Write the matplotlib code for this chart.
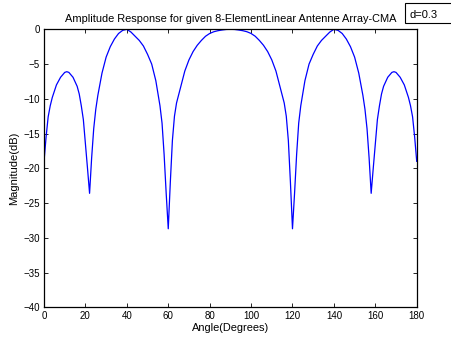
import matplotlib

matplotlib.use("Agg")

import matplotlib.pyplot as plt
from matplotlib.patches import Rectangle

# angle (deg) and magnitude (dB)
angles = [0, 1, 2, 3, 4, 6, 8, 10, 11, 12, 14, 16, 17, 18, 19, 20, 21, 22, 23, 24,
          25, 26, 28, 30, 32, 34, 36, 38, 40, 42, 44, 46, 48, 50, 52, 54, 56, 57,
          58, 59, 60, 61, 62, 63, 64, 66, 68, 70, 72, 74, 76, 78, 80, 82, 84, 86,
          88, 90, 92, 94, 96, 98, 100, 102, 104, 106, 108, 110, 112, 114, 116,
          117, 118, 119, 120, 121, 122, 123, 124, 126, 128, 130, 132, 134, 136,
          138, 140, 142, 144, 146, 148, 150, 152, 154, 155, 156, 157, 158, 159,
          160, 161, 162, 163, 164, 166, 168, 169, 170, 172, 174, 176, 177, 178,
          179, 180]
magnitude = [-19.0, -15.5, -12.6, -11.0, -9.8, -8.0, -6.9, -6.2, -6.1, -6.2, -6.9,
             -8.2, -9.3, -11.0, -13.0, -16.5, -20.0, -23.6, -18.5, -14.3, -11.5,
             -9.5, -6.3, -4.0, -2.5, -1.4, -0.6, -0.15, 0.0, -0.4, -1.0, -1.6,
             -2.4, -3.6, -5.0, -7.4, -11.0, -13.5, -18.0, -23.6, -28.7, -22.0,
             -16.0, -12.5, -10.6, -8.3, -6.0, -4.4, -3.2, -2.3, -1.6, -1.0, -0.6,
             -0.35, -0.2, -0.1, -0.02, 0.0, -0.02, -0.1, -0.2, -0.35, -0.6, -1.0,
             -1.6, -2.3, -3.2, -4.4, -6.0, -8.3, -10.6, -12.5, -16.0, -22.0, -28.7,
             -23.6, -18.0, -13.5, -11.0, -7.4, -5.0, -3.6, -2.4, -1.6, -1.0, -0.4,
             0.0, -0.15, -0.6, -1.4, -2.5, -4.0, -6.3, -9.5, -11.5, -14.3, -18.5,
             -23.6, -20.0, -16.5, -13.0, -11.0, -9.3, -8.2, -6.9, -6.2, -6.1, -6.2,
             -6.9, -8.0, -9.8, -11.0, -12.6, -15.5, -19.0]

x_ticks = list(range(0, 181, 20))
y_ticks = list(range(-40, 1, 5))

plt.rcParams["font.family"] = ["Liberation Sans", "DejaVu Sans"]

fig = plt.figure(figsize=(4.51, 3.38), dpi=100, facecolor="white")
ax = fig.add_axes([0.0976, 0.0908, 0.8264, 0.8225])

ax.plot(angles, magnitude, color="#0000FF", linewidth=0.9)

ax.set_xlim(0, 180)
ax.set_ylim(-40, 0)
ax.set_xticks(x_ticks)
ax.set_yticks(y_ticks)
ax.tick_params(direction="in", length=3, width=0.6, labelsize=7,
               top=True, right=True, pad=3)
for s in ax.spines.values():
    s.set_linewidth(0.9)

ax.set_title("Amplitude Response for given 8-ElementLinear Antenne Array-CMA",
             fontsize=7.9, pad=5)
ax.set_xlabel("Angle(Degrees)", fontsize=7.9, labelpad=1)
ax.set_ylabel("Magnitude(dB)", fontsize=8, labelpad=3)

# legend box, partly outside the figure like the reference
fig.patches.append(Rectangle((405 / 451, 1 - 22.5 / 338), 60 / 451, 19.5 / 338,
                             transform=fig.transFigure, facecolor="white",
                             edgecolor="black", linewidth=0.8))
fig.text(409 / 451, 1 - 14.5 / 338, "d=0.3", fontsize=8, va="center", ha="left")

fig.savefig("out.png", dpi=100, facecolor="white")
